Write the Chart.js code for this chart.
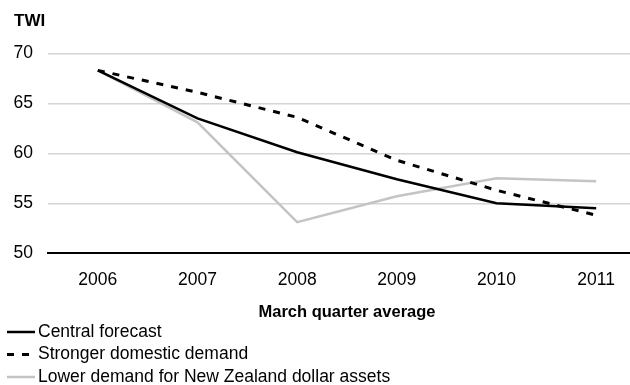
<!DOCTYPE html>
<html>
<head>
<meta charset="utf-8">
<script src="https://cdn.jsdelivr.net/npm/chart.js@4/dist/chart.umd.min.js"></script>
<style>
  html, body { margin: 0; padding: 0; background: #fff; overflow: hidden; }
  #clip { width: 630px; height: 385px; overflow: hidden; }
  #wrap { width: 646px; height: 385px; position: relative; }
</style>
</head>
<body>
<div id="clip"><div id="wrap"><canvas id="chart"></canvas></div></div>
<script>
const years    = ['2006', '2007', '2008', '2009', '2010', '2011'];
const central  = [68.3, 63.5, 60.1, 57.4, 55.0, 54.5];
const stronger = [68.3, 66.1, 63.6, 59.3, 56.3, 53.8];
const lowerNzd = [68.3, 63.1, 53.1, 55.7, 57.5, 57.2];

const FONT = "'Liberation Sans', Arial, sans-serif";

// legend stacked one item per line under the axis title
const stackedLegend = {
  id: 'stackedLegend',
  afterDraw(chart) {
    const ctx = chart.ctx;
    ctx.save();
    ctx.font = '17.5px ' + FONT;
    ctx.textBaseline = 'middle';
    chart.data.datasets.forEach((ds, i) => {
      const y = chart.height - 53 + i * 22.5;
      ctx.beginPath();
      ctx.strokeStyle = ds.borderColor;
      ctx.lineWidth = ds.borderWidth;
      ctx.setLineDash(ds.borderDash || []);
      ctx.moveTo(7, y);
      ctx.lineTo(35, y);
      ctx.stroke();
      ctx.setLineDash([]);
      ctx.fillStyle = '#000';
      ctx.fillText(ds.label, 38, y);
    });
    ctx.restore();
  },
};

new Chart(document.getElementById('chart').getContext('2d'), {
  type: 'line',
  data: {
    labels: years,
    datasets: [
      {
        label: 'Central forecast',
        data: central,
        borderColor: '#000',
        borderWidth: 2.5,
      },
      {
        label: 'Stronger domestic demand',
        data: stronger,
        borderColor: '#000',
        borderWidth: 3,
        borderDash: [7, 8],
      },
      {
        label: 'Lower demand for New Zealand dollar assets',
        data: lowerNzd,
        borderColor: '#c4c4c4',
        borderWidth: 2.5,
      },
    ],
  },
  options: {
    responsive: true,
    maintainAspectRatio: false,
    animation: false,
    elements: { point: { radius: 0 }, line: { tension: 0 } },
    layout: { padding: { left: 14, right: 0, top: 0, bottom: 63 } },
    plugins: {
      legend: { display: false },
      tooltip: { enabled: false },
      title: {
        display: true,
        text: 'TWI',
        align: 'start',
        color: '#000',
        font: { family: FONT, size: 17, weight: 'bold' },
        padding: { top: 11, bottom: 22 },
      },
    },
    scales: {
      x: {
        offset: true,
        afterFit(scale) { scale.paddingLeft = 0; scale.paddingRight = 0; },
        grid: { display: false },
        border: { display: true, color: '#000', width: 2 },
        ticks: { color: '#000', padding: 8, font: { family: FONT, size: 17.5 } },
        title: {
          display: true,
          text: 'March quarter average',
          color: '#000',
          font: { family: FONT, size: 16.5, weight: 'bold' },
          padding: { top: 4, bottom: 0 },
        },
      },
      y: {
        min: 50,
        max: 70,
        afterFit(scale) { scale.width = 34; },
        ticks: { stepSize: 5, color: '#000', padding: 15, font: { family: FONT, size: 17.5 } },
        border: { display: false },
        grid: {
          drawTicks: false,
          color: (c) => c.tick.value === 50 ? 'rgba(0,0,0,0)' : '#d4d4d4',
          lineWidth: 1.5,
        },
      },
    },
  },
  plugins: [stackedLegend],
});
</script>
</body>
</html>
